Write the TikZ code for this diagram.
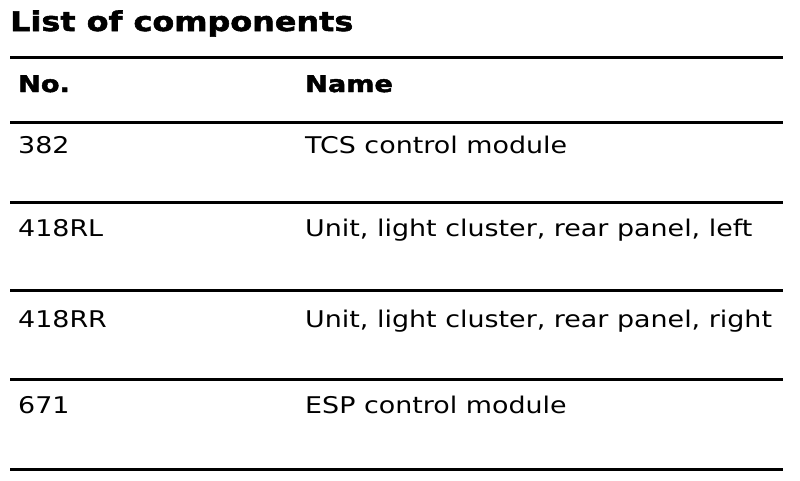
\documentclass[tikz,border=0pt]{standalone}
\usepackage{fontspec}
\setmainfont[FakeStretch=1.17,BoldFeatures={FakeStretch=1.18,FakeBold=2}]{DejaVu Sans}
\usetikzlibrary{positioning}

\begin{document}
\begin{tikzpicture}[x=1pt,y=-1pt,
            rule/.style={line width=3pt},
            title cell/.style={anchor=base west,inner sep=0pt,font=\bfseries\fontsize{27}{31}\selectfont},
            head cell/.style={anchor=base west,inner sep=0pt,font=\bfseries\fontsize{23}{27}\selectfont},
            body cell/.style={anchor=base west,inner sep=0pt,font=\fontsize{23}{27}\selectfont}]

            \useasboundingbox (0,0) rectangle (800,480);

            \node[title cell] (Title) at (10,31) {List of components};

            \node[head cell] (NoHead) at (18,92) {No.};
            \node[head cell] (NameHead) at (305,92) {Name};

            \node[body cell] (NoTCS) at (18,153) {382};
            \node[body cell] (NameTCS) at (305,153) {TCS control module};

            \node[body cell] (NoLeft) at (18,236) {418RL};
            \node[body cell] (NameLeft) at (305,236) {Unit, light cluster, rear panel, left};

            \node[body cell] (NoRight) at (18,327) {418RR};
            \node[body cell] (NameRight) at (305,327) {Unit, light cluster, rear panel, right};

            \node[body cell] (NoESP) at (18,413) {671};
            \node[body cell] (NameESP) at (305,413) {ESP control module};

            \draw[rule] (10,57) -- (783,57);
            \draw[rule] (10,122) -- (783,122);
            \draw[rule] (10,202) -- (783,202);
            \draw[rule] (10,290) -- (783,290);
            \draw[rule] (10,379) -- (783,379);
            \draw[rule] (10,469) -- (783,469);
          \end{tikzpicture}
\end{document}
